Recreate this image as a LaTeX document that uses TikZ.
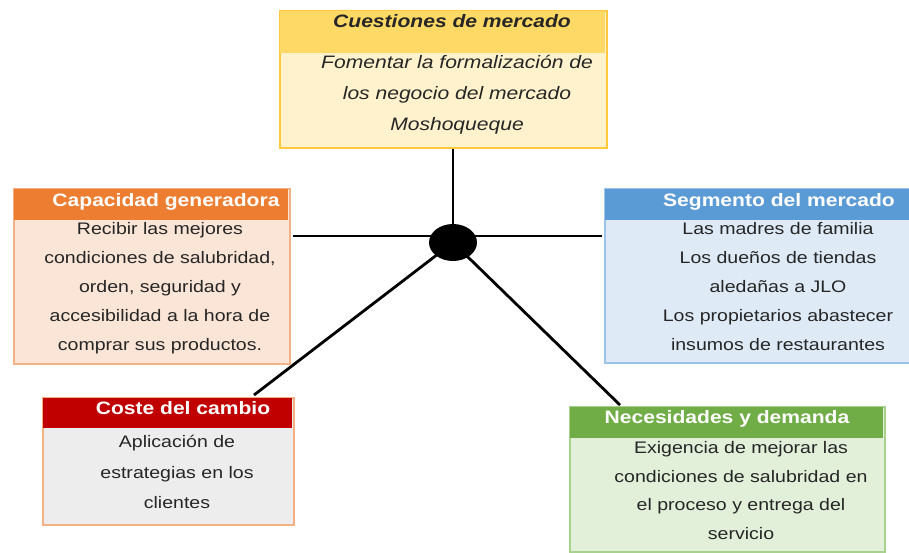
\documentclass[tikz,border=0pt]{standalone}
\usepackage{fontspec}
\setmainfont{Liberation Sans}[FakeStretch=1.17]
\usepackage{tikz}
\usetikzlibrary{positioning,shapes.geometric}
\usepackage{xcolor}
\definecolor{cuHead}{HTML}{FFD966}
\definecolor{cuBody}{HTML}{FFF2CC}
\definecolor{cuLine}{HTML}{FFC83D}
\definecolor{caHead}{HTML}{ED7D31}
\definecolor{caBody}{HTML}{FBE5D6}
\definecolor{caLine}{HTML}{F4B183}
\definecolor{seHead}{HTML}{5B9BD5}
\definecolor{seBody}{HTML}{DEEBF7}
\definecolor{seLine}{HTML}{9DC3E6}
\definecolor{coHead}{HTML}{C00000}
\definecolor{coBody}{HTML}{EDEDED}
\definecolor{neHead}{HTML}{70AD47}
\definecolor{neBody}{HTML}{E2F0D9}
\definecolor{neLine}{HTML}{A9D18E}
\definecolor{ink}{HTML}{262626}

\begin{document}
\begin{tikzpicture}[x=1pt,y=-1pt,
  every node/.style={font=\fontsize{16.7}{29}\selectfont},
  box/.style={draw,line width=1.5pt,anchor=north west,inner sep=0pt},
  head/.style={anchor=north west,inner sep=0pt},
  title/.style={font=\fontsize{18}{20}\selectfont\bfseries,text=white},
  txt/.style={align=center,text=ink},
  spoke/.style={line width=2.8pt}]
\useasboundingbox[fill=white] (0,0) rectangle (909,552);

% Cuestiones de mercado
\node[box,draw=cuLine,fill=cuBody,minimum width=327pt,minimum height=137pt] (cuest) at (279,10) {};
\node[head,fill=cuHead,minimum width=325.5pt,minimum height=42pt] (cuestH) at (279.75,10.75) {};
\node[title,text=ink,font=\fontsize{18}{20}\selectfont\bfseries\itshape] (cuestT) at (452,21) {Cuestiones de mercado};
\node[txt,font=\fontsize{18}{31}\selectfont\itshape] (cuestB) at (457,95) {Fomentar la formalización de\\los negocio del mercado\\Moshoqueque};

% Capacidad generadora
\node[box,draw=caLine,fill=caBody,minimum width=276pt,minimum height=175pt] (capa) at (13,188) {};
\node[head,fill=caHead,minimum width=274.5pt,minimum height=31.5pt] (capaH) at (13.75,188.75) {};
\node[title] (capaT) at (166,202) {Capacidad generadora};
\node[txt] (capaB) at (160,288) {Recibir las mejores\\condiciones de salubridad,\\orden, seguridad y\\accesibilidad a la hora de\\comprar sus productos.};

% Segmento del mercado
\node[box,draw=seLine,fill=seBody,minimum width=306pt,minimum height=174pt] (segm) at (604,188) {};
\node[head,fill=seHead,minimum width=304.5pt,minimum height=31.5pt] (segmH) at (604.75,188.75) {};
\node[title] (segmT) at (779,202) {Segmento del mercado};
\node[txt] (segmB) at (778,287) {Las madres de familia\\Los dueños de tiendas\\aledañas a JLO\\Los propietarios abastecer\\insumos de restaurantes};

% Coste del cambio
\node[box,draw=caLine,fill=coBody,minimum width=251pt,minimum height=127pt] (coste) at (42,397) {};
\node[head,fill=coHead,minimum width=249.5pt,minimum height=30.5pt] (costeH) at (42.75,397.75) {};
\node[title] (costeT) at (183,408) {Coste del cambio};
\node[txt,font=\fontsize{16.7}{30.5}\selectfont] (costeB) at (177,472) {Aplicación de\\estrategias en los\\clientes};

% Necesidades y demanda
\node[box,draw=neLine,fill=neBody,minimum width=315pt,minimum height=145pt] (neces) at (569,406) {};
\node[head,fill=neHead,minimum width=313.5pt,minimum height=31.5pt] (necesH) at (569.75,406.75) {};
\node[title] (necesT) at (727,419) {Necesidades y demanda};
\node[txt,font=\fontsize{16.7}{28.5}\selectfont] (necesB) at (741,490.5) {Exigencia de mejorar las\\condiciones de salubridad en\\el proceso y entrega del\\servicio};

% spokes
\coordinate (mid) at (453,242.5);
\coordinate (hl) at (453,236);
\coordinate (coTip) at (254,395);
\coordinate (neTip) at (620,405);
\draw[spoke] (cuest.south -| mid) -- (mid);
\draw[spoke,shorten <=2pt,shorten >=2pt] (capa.east |- hl) -- (segm.west |- hl);
\draw[spoke] (mid) -- (coTip);
\draw[spoke] (mid) -- (neTip);
\node[ellipse,fill=black,minimum width=48pt,minimum height=37pt,inner sep=0pt] (hub) at (mid) {};
\end{tikzpicture}
\end{document}
